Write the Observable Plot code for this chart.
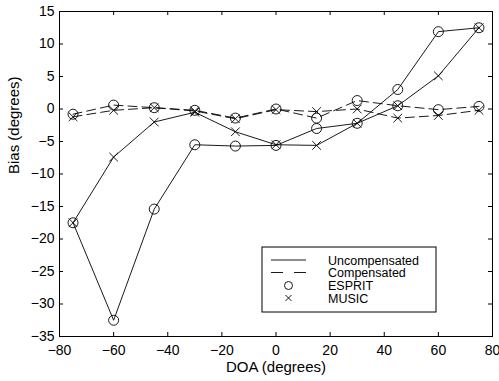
<!DOCTYPE html>
<html>
<head>
<meta charset="utf-8">
<script src="https://cdn.jsdelivr.net/npm/d3@7"></script>
<script src="https://cdn.jsdelivr.net/npm/@observablehq/plot@0.6"></script>
<style>
  html, body { margin: 0; padding: 0; background: #fff; }
</style>
</head>
<body>
<div id="chart"></div>
<script>
// ---- data ----
const doa = [-75, -60, -45, -30, -15, 0, 15, 30, 45, 60, 75];
const uncompEsprit = [-17.5, -32.5, -15.4, -5.5, -5.7, -5.6, -3.0, -2.2, 3.0, 11.9, 12.5];
const uncompMusic  = [-17.5, -7.4, -2.0, -0.5, -3.5, -5.5, -5.6, -2.2, 0.5, 5.1, 12.5];
const compEsprit   = [-0.8, 0.6, 0.2, -0.2, -1.4, 0.0, -1.4, 1.3, 0.5, -0.1, 0.4];
const compMusic    = [-1.2, -0.2, 0.2, -0.3, -1.5, -0.1, -0.4, 0.0, -1.4, -1.0, -0.2];
const xTicks = [-80, -60, -40, -20, 0, 20, 40, 60, 80];
const yTicks = [-35, -30, -25, -20, -15, -10, -5, 0, 5, 10, 15];
const xLabel = "DOA (degrees)";
const yLabel = "Bias (degrees)";
const legendLabels = ["Uncompensated", "Compensated", "ESPRIT", "MUSIC"];

// ---- build ----
const W = 499, H = 381;
const mL = 59, mR = 7, mT = 11, mB = 45;
const innerW = W - mL - mR, innerH = H - mT - mB;
const tk = 4;
const dash = "9,5";

const pts = (ys) => doa.map((x, i) => ({x, y: ys[i]}));

const chart = Plot.plot({
  width: W, height: H,
  marginLeft: mL, marginRight: mR, marginTop: mT, marginBottom: mB,
  style: {fontFamily: "'Liberation Sans', Arial, Helvetica, sans-serif", fontSize: "14px", background: "#fff", color: "#000"},
  x: {domain: [-80, 80]},
  y: {domain: [-35, 15]},
  marks: [
    Plot.axisX({ticks: xTicks, tickSize: 0, tickPadding: 9, label: null, fontSize: 14}),
    Plot.axisY({ticks: yTicks, tickSize: 0, tickPadding: 5, label: null, fontSize: 14}),
    // inward ticks on all four sides
    Plot.tickX(xTicks, {x: d => d, insetTop: innerH - tk, stroke: "#000"}),
    Plot.tickX(xTicks, {x: d => d, insetBottom: innerH - tk, stroke: "#000"}),
    Plot.tickY(yTicks, {y: d => d, insetRight: innerW - tk, stroke: "#000"}),
    Plot.tickY(yTicks, {y: d => d, insetLeft: innerW - tk, stroke: "#000"}),
    // series
    Plot.line(pts(uncompEsprit), {x: "x", y: "y", stroke: "#000", strokeWidth: 0.9}),
    Plot.line(pts(uncompMusic), {x: "x", y: "y", stroke: "#000", strokeWidth: 0.9}),
    Plot.line(pts(compEsprit), {x: "x", y: "y", stroke: "#000", strokeWidth: 0.9, strokeDasharray: dash}),
    Plot.line(pts(compMusic), {x: "x", y: "y", stroke: "#000", strokeWidth: 0.9, strokeDasharray: dash}),
    Plot.dot(pts(uncompEsprit).concat(pts(compEsprit)), {x: "x", y: "y", r: 5, stroke: "#000", fill: "none", strokeWidth: 0.9}),
    Plot.dot(pts(uncompMusic).concat(pts(compMusic)), {x: "x", y: "y", r: 4, symbol: "times", stroke: "#000", strokeWidth: 0.9}),
    Plot.frame({stroke: "#000", strokeWidth: 1}),
    Plot.text([xLabel], {frameAnchor: "bottom", dy: 35, text: d => d, fontSize: 15}),
    Plot.text([yLabel], {frameAnchor: "left", dx: -45, rotate: -90, text: d => d, fontSize: 15})
  ]
});

// ---- legend (inside plot area) ----
const svg = d3.select(chart);
const lg = svg.append("g").attr("transform", "translate(262,247)");
lg.append("rect").attr("width", 174).attr("height", 65).attr("fill", "#fff").attr("stroke", "#000").attr("stroke-width", 1);
const rowY = [13, 25.5, 38.5, 51];
const sampleX0 = 9, sampleX1 = 44, sampleCx = 26.5, textX = 66;
legendLabels.forEach((lab, i) => {
  const y = rowY[i];
  if (i === 0) lg.append("line").attr("x1", sampleX0).attr("x2", sampleX1).attr("y1", y).attr("y2", y).attr("stroke", "#000").attr("stroke-width", 0.9);
  if (i === 1) lg.append("line").attr("x1", sampleX0).attr("x2", sampleX1).attr("y1", y).attr("y2", y).attr("stroke", "#000").attr("stroke-width", 0.9).attr("stroke-dasharray", "12,11");
  if (i === 2) lg.append("circle").attr("cx", sampleCx).attr("cy", y).attr("r", 4).attr("fill", "none").attr("stroke", "#000").attr("stroke-width", 0.9);
  if (i === 3) lg.append("path").attr("d", `M${sampleCx-3},${y-3}L${sampleCx+3},${y+3}M${sampleCx-3},${y+3}L${sampleCx+3},${y-3}`).attr("stroke", "#000").attr("stroke-width", 0.9);
  lg.append("text").attr("x", textX).attr("y", y).attr("dy", "0.36em").attr("text-anchor", "start").attr("font-size", 12.5).attr("fill", "#000").text(lab);
});

document.getElementById("chart").appendChild(chart);
</script>
</body>
</html>
